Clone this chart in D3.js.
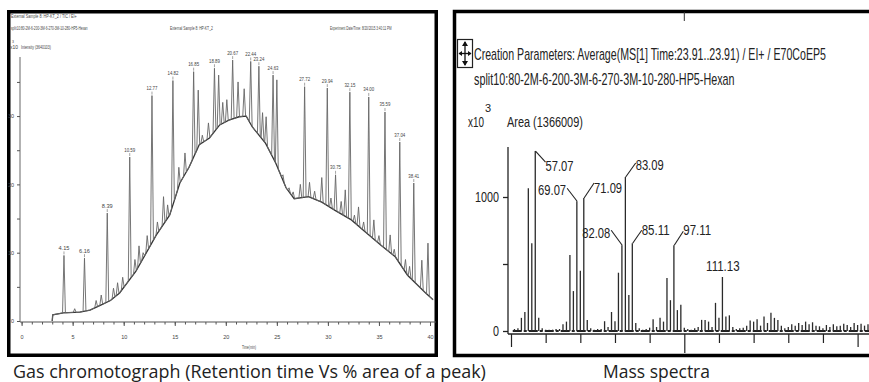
<!DOCTYPE html>
<html><head><meta charset="utf-8">
<script src="https://cdn.jsdelivr.net/npm/d3@7"></script>
<style>body{margin:0;background:#fff}svg{display:block}</style>
</head><body>
<svg id="c" width="869" height="382"></svg>
<script>
// ---------- Gas chromatogram data ----------
const gcBaseT = [3.0,3.05,4.1,5.7,6.7,7.7,8.7,9.6,11.2,13.2,14.5,15.5,16.4,17.4,18.4,19.4,20.3,21.3,22.0,22.6,23.9,24.9,25.9,26.7,28.1,29.4,30.7,32.3,33.7,35.2,36.6,37.8,39.5,40.3];
const gcBaseV = [0,0.9,1.2,1.3,1.6,2.3,3.0,4.1,7.3,12.6,15.5,20.2,22.5,25.8,26.8,28.7,29.4,29.9,30.0,28.4,26.0,23.1,19.5,17.9,18.2,17.4,16.2,14.8,13.0,11.1,9.4,6.7,4.2,3.1];
const gcPeakT = [4.15,6.16,8.39,10.59,12.77,14.82,16.85,18.89,20.67,22.44,23.24,24.63,27.72,29.94,30.75,32.15,34.00,35.59,37.04,38.41];
const gcPeakH = [9.6,9.2,15.8,24.0,33.0,35.2,36.5,37.0,38.2,38.0,37.3,36.0,34.3,34.1,21.4,33.5,32.8,30.6,26.2,20.2];
const gcPeakLabel = ["4.15","6.16","8.39","10.59","12.77","14.82","16.85","18.89","20.67","22.44","23.24","24.63","27.72","29.94","30.75","32.15","34.00","35.59","37.04","38.41"];
const gcMinorT = [5.2,7.3,7.8,9.0,9.4,9.9,11.1,11.5,11.9,12.3,13.3,13.9,14.3,15.4,16.0,17.3,17.7,18.3,19.3,19.7,20.1,21.2,21.8,23.6,23.95,25.0,25.6,26.2,26.6,27.3,28.2,28.7,29.4,30.3,31.3,31.7,32.6,33.0,33.5,34.5,35.0,36.1,36.5,37.6,38.0,39.2,39.8];
const gcMinorH = [1.8,3.0,3.8,4.8,5.6,6.4,9.0,11.0,10.0,12.5,14.5,18.2,17.0,22.5,24.6,33.8,27.2,29.0,36.0,32.0,32.4,35.0,34.0,30.5,29.9,35.3,21.4,19.5,18.9,20.0,20.3,19.0,21.0,18.0,17.5,19.2,15.5,16.7,14.5,14.8,12.5,12.6,10.5,9.0,8.0,8.9,11.4];
const gcTimeTicks = [0,5,10,15,20,25,30,35,40];
const gcIntTicks = [0,10,20,30];

// ---------- Mass spectrum data ----------
const msMz = [51,52,53,54,55,56,57,58,59,60,61,62,63,64,65,66,67,68,69,70,71,72,73,74,75,76,77,78,79,80,81,82,83,84,85,86,87,88,89,90,91,92,93,94,95,96,97,98,99,100,101,102,103,104,105,106,107,108,109,110,111,112,113,114,115,116,117,118,119,120,121,122,123,124,125,126,127,128,129,130,131,132,133,134,135,136,137,138,139,140,141,142,143,144,145,146,147,148,149,150,151,152,153];
const msAb = [15,20,98,142,1065,655,1343,98,20,10,10,10,15,15,50,70,567,298,968,450,993,83,20,10,15,15,73,30,142,73,435,640,1149,269,655,60,20,10,15,25,88,30,98,70,396,230,640,156,196,25,15,10,20,30,83,83,70,30,210,98,403,108,117,30,15,20,25,40,78,70,88,40,108,60,137,98,83,40,20,30,50,40,60,45,70,50,65,40,35,20,45,30,50,35,40,55,45,30,60,45,55,40,50];
const msLabelMz = [57.07,69.07,71.09,82.08,83.09,85.11,97.11,111.13];
const msLabelAb = [1343,968,993,640,1149,655,640,403];
const msMzTicks = [50,60,70,80,90,100,110,120,130,140,150];
const msAbTicks = [0,500,1000];

const svg = d3.select("#c");
const NARROW = "'Liberation Sans Narrow','Liberation Sans',Arial,sans-serif";
const SANS = "'Liberation Sans',Arial,sans-serif";

// text helper: if a target width is given, the text is squeezed horizontally with a transform
function txt(g, x, y, s, size, len, anchor, family){
  const t = g.append("text").attr("x",0).attr("y",0).text(s)
    .attr("font-size",size).attr("font-family",family||SANS).attr("fill","#222");
  if(anchor) t.attr("text-anchor",anchor);
  let sx = 1;
  if(len){
    const w = t.node().getComputedTextLength();
    if(w>0) sx = len/w;
  }
  t.attr("transform",`translate(${x},${y}) scale(${sx},1)`);
  return t;
}

// ================= LEFT PANEL =================
const L = svg.append("g");
L.append("rect").attr("x",8.75).attr("y",11.75).attr("width",427.5).attr("height",343.5)
  .attr("fill","none").attr("stroke","#000").attr("stroke-width",3.5);

// header texts
txt(L,11,18,"External Sample 8: HP-KT_2 / TIC / EI+",4.5,66,null,NARROW).attr("fill","#444");
txt(L,11,30,"split10:80-2M-6-200-3M-6-270-3M-10-280-HP5-Hexan",4.5,77,null,NARROW).attr("fill","#444");
txt(L,170,30,"External Sample 8: HP-KT_2",4.5,43,null,NARROW).attr("fill","#444");
txt(L,330,30,"Experiment Date/Time: 8/20/2015 3:40:11 PM",4.5,62,null,NARROW).attr("fill","#444");
txt(L,10,49,"x10",4.5,8,null,NARROW).attr("fill","#444");
txt(L,12,43,"3",3.5,null,null,NARROW).attr("fill","#444");
txt(L,21,49,"Intensity (3640103)",4.5,30,null,NARROW).attr("fill","#444");

const gx = d3.scaleLinear().domain([0,40]).range([21.6,430]);
const gy = d3.scaleLinear().domain([0,39]).range([321,54.6]);

// x axis
const xAxG = L.append("g").attr("transform","translate(0,322)");
xAxG.append("line").attr("x1",20).attr("x2",436).attr("stroke","#333").attr("stroke-width",1.2);
xAxG.call(d3.axisBottom(gx).tickValues(d3.range(0,41,1)).tickSize(2.5).tickFormat(""))
  .call(g=>g.select(".domain").remove())
  .call(g=>g.selectAll("line").attr("stroke","#555"));
const xLab = L.append("g").attr("transform","translate(0,322)")
  .call(d3.axisBottom(gx).tickValues(gcTimeTicks).tickSize(4).tickPadding(9))
  .call(g=>g.select(".domain").remove());
xLab.selectAll("line").attr("stroke","#555");
xLab.selectAll("text").attr("font-size",5.5).attr("font-family",NARROW).attr("fill","#444");
txt(L,249,349,"Time(min)",4.5,14,"middle",NARROW).attr("fill","#444");

// y axis
const yAx = L.append("g").attr("transform","translate(20,0)")
  .call(d3.axisLeft(gy).tickValues(d3.range(0,36,5)).tickSize(3).tickPadding(3)
    .tickFormat(d=>gcIntTicks.includes(d)?d:""));
yAx.select(".domain").remove();
yAx.append("line").attr("y1",gy(0)+1).attr("y2",57).attr("stroke","#555").attr("stroke-width",0.9);
yAx.selectAll(".tick line").attr("stroke","#555");
yAx.selectAll("text").attr("font-size",5.5).attr("font-family",NARROW).attr("fill","#444");

// trace
const base = d3.scaleLinear().domain(gcBaseT).range(gcBaseV).clamp(true);
const peaks = gcPeakT.map((t,i)=>({t,h:gcPeakH[i]})).concat(gcMinorT.map((t,i)=>({t,h:gcMinorH[i]})));
const hw = 0.14;
let pts = [];
gcBaseT.forEach((t,i)=>{ if(!peaks.some(p=>Math.abs(p.t-t)<hw)) pts.push([t,gcBaseV[i]]); });
peaks.forEach(p=>{ pts.push([p.t-hw,base(p.t-hw)]); pts.push([p.t,p.h]); pts.push([p.t+hw,base(p.t+hw)]); });
pts.sort((a,b)=>a[0]-b[0]);
const line = d3.line().x(d=>gx(d[0])).y(d=>gy(d[1]));
L.append("path").datum(gcBaseT.map((t,i)=>[t,gcBaseV[i]])).attr("d",line)
  .attr("fill","none").attr("stroke","#333").attr("stroke-width",1.3);
L.append("path").datum(pts).attr("d",line)
  .attr("fill","none").attr("stroke","#666").attr("stroke-width",0.9);

// peak labels
gcPeakT.forEach((t,i)=>{
  const x = gx(t), y = gy(gcPeakH[i]);
  L.append("line").attr("x1",x).attr("x2",x).attr("y1",y-1).attr("y2",y-4).attr("stroke","#666").attr("stroke-width",0.6);
  txt(L,x,y-5.5,gcPeakLabel[i],5,11,"middle",NARROW).attr("fill","#444");
});

// ================= RIGHT PANEL =================
const R = svg.append("g");
R.append("rect").attr("x",454.5).attr("y",11.5).attr("width",440).attr("height",344)
  .attr("fill","none").attr("stroke","#000").attr("stroke-width",3.5);

const mx = d3.scaleLinear().domain([50,153]).range([511,868]);
const my = d3.scaleLinear().domain([0,1000]).range([331,197]);

R.append("line").attr("x1",mx(100)).attr("x2",mx(100)).attr("y1",12).attr("y2",21).attr("stroke","#333").attr("stroke-width",1);

// icon
const ic = R.append("g");
ic.append("rect").attr("x",457.5).attr("y",39.5).attr("width",15).attr("height",28).attr("fill","#fff").attr("stroke","#222").attr("stroke-width",1.2);
ic.append("line").attr("x1",465).attr("x2",465).attr("y1",42).attr("y2",65).attr("stroke","#111").attr("stroke-width",1.3);
ic.append("line").attr("x1",459).attr("x2",471).attr("y1",53.5).attr("y2",53.5).attr("stroke","#111").attr("stroke-width",1.3);
ic.append("path").attr("d","M465,41 L462,46 L468,46Z M465,66 L462,61 L468,61Z M458.5,53.5 L462,51 L462,56Z M471.5,53.5 L468,51 L468,56Z").attr("fill","#111");

txt(R,474,60,"Creation Parameters: Average(MS[1] Time:23.91..23.91) / EI+ / E70CoEP5",16,352);
txt(R,474,85,"split10:80-2M-6-200-3M-6-270-3M-10-280-HP5-Hexan",16,261);
txt(R,468,127,"x10",15,16);
txt(R,485,112,"3",11);
txt(R,507,127,"Area (1366009)",15,76);

// axes
const yA = R.append("g").attr("transform","translate(508,0)")
  .call(d3.axisLeft(my).tickValues(msAbTicks).tickSize(5).tickFormat(""));
yA.select(".domain").remove();
yA.append("line").attr("y1",my(0)+3).attr("y2",147).attr("stroke","#222").attr("stroke-width",1.3);
yA.selectAll(".tick line").attr("stroke","#222").attr("stroke-width",1.3);
msAbTicks.filter(d=>d!==500).forEach(d=>{
  const s = String(d);
  txt(R,499,my(d)+5,s,15,s.length*6,"end");
});

const xA = R.append("g").attr("transform","translate(0,334)")
  .call(d3.axisBottom(mx).tickValues(msMzTicks).tickSize(9).tickFormat(""));
xA.select(".domain").remove();
xA.append("line").attr("x1",508).attr("x2",869).attr("stroke","#222").attr("stroke-width",1.3);
xA.selectAll(".tick line").attr("stroke","#222").attr("stroke-width",1.2)
  .attr("y2",d=>d===100?19:(d===50||d===150?13:9));

// baseline noise floor
R.append("line").attr("x1",mx(50.5)).attr("x2",869).attr("y1",my(0)).attr("y2",my(0))
  .attr("stroke","#222").attr("stroke-width",2.2).attr("stroke-dasharray","9 2 3 2");

// bars
R.append("g").selectAll("line").data(msMz).join("line")
  .attr("x1",d=>mx(d)).attr("x2",d=>mx(d))
  .attr("y1",my(0)).attr("y2",(d,i)=>my(msAb[i]))
  .attr("stroke","#2a2a2a").attr("stroke-width",1.3);

// labels with leaders: [leader dx, leader dy, text dx, text dy, anchor]
const msLabelLayout = [
  [10,11,10,20,"start"],
  [-10,-13,-11,-6,"end"],
  [10,-15,10,-5,"start"],
  [-11,-15,-12,-7,"end"],
  [10,-14,10,-7,"start"],
  [9,-13,9,-8,"start"],
  [9,-14,9,-10,"start"],
  [0,0,0,-6,"middle"]
];
msLabelMz.forEach((m,i)=>{
  const x = mx(m), y = my(msLabelAb[i]);
  const [ldx,ldy,tdx,tdy,anc] = msLabelLayout[i];
  if(ldx||ldy) R.append("line").attr("x1",x).attr("y1",y).attr("x2",x+ldx).attr("y2",y+ldy)
    .attr("stroke","#222").attr("stroke-width",1.1);
  const s = d3.format(".2f")(m);
  txt(R,x+tdx,y+tdy,s,15,s.length*5.6,anc);
});

// ================= CAPTIONS =================
const CAP = "'Open Sans','Noto Sans',sans-serif";
txt(svg,13,378,"Gas chromotograph (Retention time Vs % area of a peak)",18.5,473,null,CAP);
txt(svg,603,378,"Mass spectra",18.5,107,null,CAP);
</script></body></html>
